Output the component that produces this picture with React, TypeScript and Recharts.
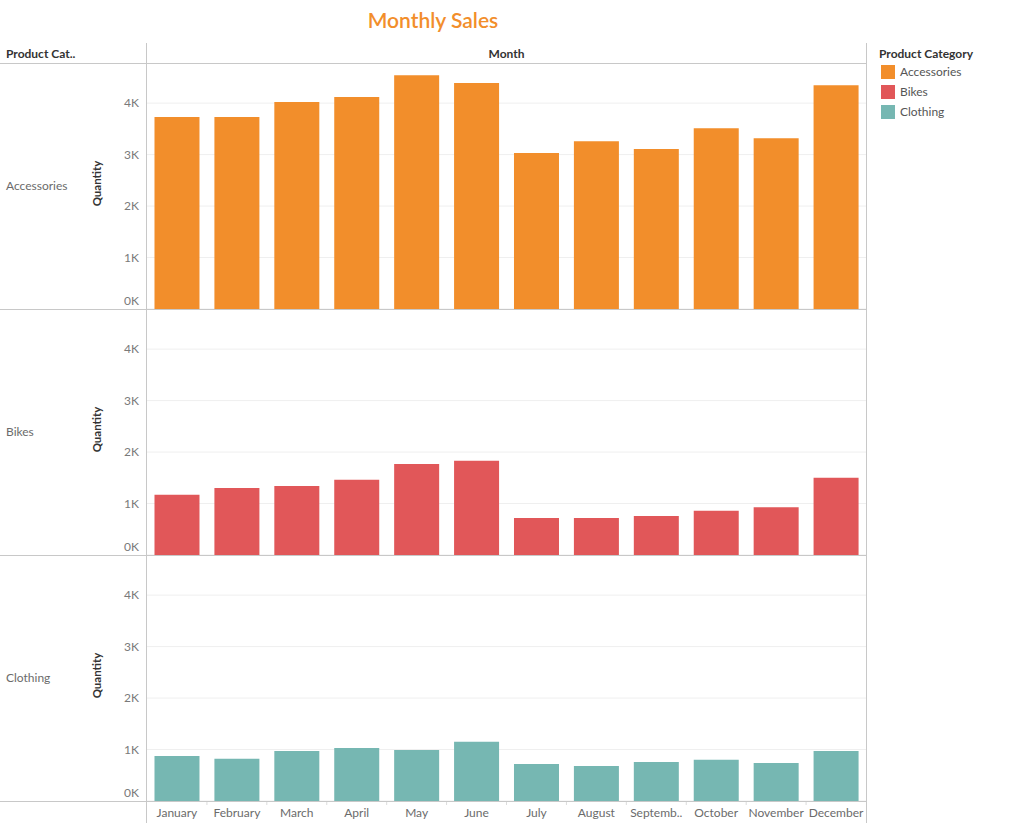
import React from 'react';
import { BarChart, Bar, XAxis, YAxis, CartesianGrid } from 'recharts';

const MONTHS = ['January', 'February', 'March', 'April', 'May', 'June', 'July', 'August', 'September', 'October', 'November', 'December'];
const CATEGORIES = ['Accessories', 'Bikes', 'Clothing'];
const ACCESSORIES = [3730, 3730, 4020, 4120, 4540, 4390, 3030, 3260, 3110, 3510, 3320, 4350];
const BIKES = [1170, 1300, 1340, 1460, 1770, 1830, 720, 720, 760, 860, 930, 1500];
const CLOTHING = [875, 820, 970, 1030, 990, 1150, 720, 680, 760, 800, 740, 970];
const Y_TICKS = [0, 1000, 2000, 3000, 4000];

const SERIES = [ACCESSORIES, BIKES, CLOTHING];
const COLORS = ['#f28e2b', '#e15759', '#76b7b2'];

const FONT = 'Lato, "Open Sans", sans-serif';
const LINE = '#c8c8c8';
const PANEL_TOP = 63;
const PANEL_H = 246;

const YTick = ({ x, y, payload }: any) => (
    <text x={x} y={payload.value === 0 ? y - 8 : y} dy="0.35em" textAnchor="end" fill="#7a7a7a" fontSize={12} fontFamily={FONT}>
        {payload.value / 1000}K
    </text>
);

const XTick = ({ x, y, payload, index }: any) => {
    const name: string = payload.value;
    const label = name.length > 8 ? name.slice(0, 7) + '..' : name;
    return (
        <g>
            {index > 0 && <line x1={x - 29.95} x2={x - 29.95} y1={y - 7} y2={y - 4} stroke="#dcdcdc" />}
            <text x={x} y={y + 4} dy="0.35em" textAnchor="middle" fill="#6b6b6b" fontSize={12} fontFamily={FONT}>
                {label}
            </text>
        </g>
    );
};

const hLine = (top: number, left: number, width: number) => (
    <div style={{ position: 'absolute', top, left, width, height: 1, background: LINE }} />
);
const vLine = (left: number, top: number, height: number) => (
    <div style={{ position: 'absolute', top, left, width: 1, height, background: LINE }} />
);

export default function App() {
    return (
        <div style={{ position: 'absolute', left: 0, top: 0, width: 1018, height: 823, background: '#fff', fontFamily: FONT, overflow: 'hidden' }}>
            <div style={{ position: 'absolute', top: 7, left: 0, width: 866, textAlign: 'center', color: '#f28e2b', fontSize: 21, fontWeight: 600 }}>
                Monthly Sales
            </div>

            <div style={{ position: 'absolute', top: 46, left: 6, fontSize: 12, fontWeight: 700, color: '#333' }}>Product Cat..</div>
            <div style={{ position: 'absolute', top: 46, left: 147, width: 719, textAlign: 'center', fontSize: 12, fontWeight: 700, color: '#333' }}>Month</div>

            {SERIES.map((values, i) => {
                const data = MONTHS.map((m, j) => ({ month: m, value: values[j] }));
                const last = i === SERIES.length - 1;
                const top = PANEL_TOP + i * PANEL_H;
                return (
                    <React.Fragment key={CATEGORIES[i]}>
                        <div style={{ position: 'absolute', top: top + PANEL_H / 2 - 8, left: 6, fontSize: 12, color: '#6b6b6b' }}>
                            {CATEGORIES[i]}
                        </div>
                        <div style={{ position: 'absolute', top: top + PANEL_H / 2 - 9, left: 96, width: 0, height: 0 }}>
                            <div style={{ position: 'absolute', left: -40, top: 0, width: 80, textAlign: 'center', transform: 'rotate(-90deg)', fontSize: 11.5, fontWeight: 700, color: '#333' }}>
                                Quantity
                            </div>
                        </div>
                        <div style={{ position: 'absolute', top, left: 0 }}>
                            <BarChart width={866} height={last ? PANEL_H + 22 : PANEL_H} data={data} margin={{ top: 0, right: 0, bottom: 0, left: 0 }} barCategoryGap="12.5%">
                                <CartesianGrid horizontal vertical={false} stroke="#efefef" />
                                <XAxis dataKey="month" hide={!last} height={22} axisLine={false} tickLine={false} tick={<XTick />} interval={0} />
                                <YAxis width={147} domain={[0, 4780]} ticks={Y_TICKS} interval={0} axisLine={false} tickLine={false} tick={<YTick />} />
                                <Bar dataKey="value" fill={COLORS[i]} isAnimationActive={false} />
                            </BarChart>
                        </div>
                    </React.Fragment>
                );
            })}

            {hLine(63, 0, 866)}
            {hLine(309, 0, 866)}
            {hLine(555, 0, 866)}
            {hLine(801, 0, 866)}
            {vLine(146, 43, 780)}
            {vLine(866, 43, 780)}

            <div style={{ position: 'absolute', top: 46, left: 879, fontSize: 12, fontWeight: 700, color: '#333' }}>Product Category</div>
            {CATEGORIES.map((c, i) => (
                <div key={c} style={{ position: 'absolute', top: 64 + i * 20, left: 881, display: 'flex', alignItems: 'center' }}>
                    <div style={{ width: 14, height: 14, background: COLORS[i] }} />
                    <span style={{ marginLeft: 5, fontSize: 12, color: '#555' }}>{c}</span>
                </div>
            ))}
        </div>
    );
}
